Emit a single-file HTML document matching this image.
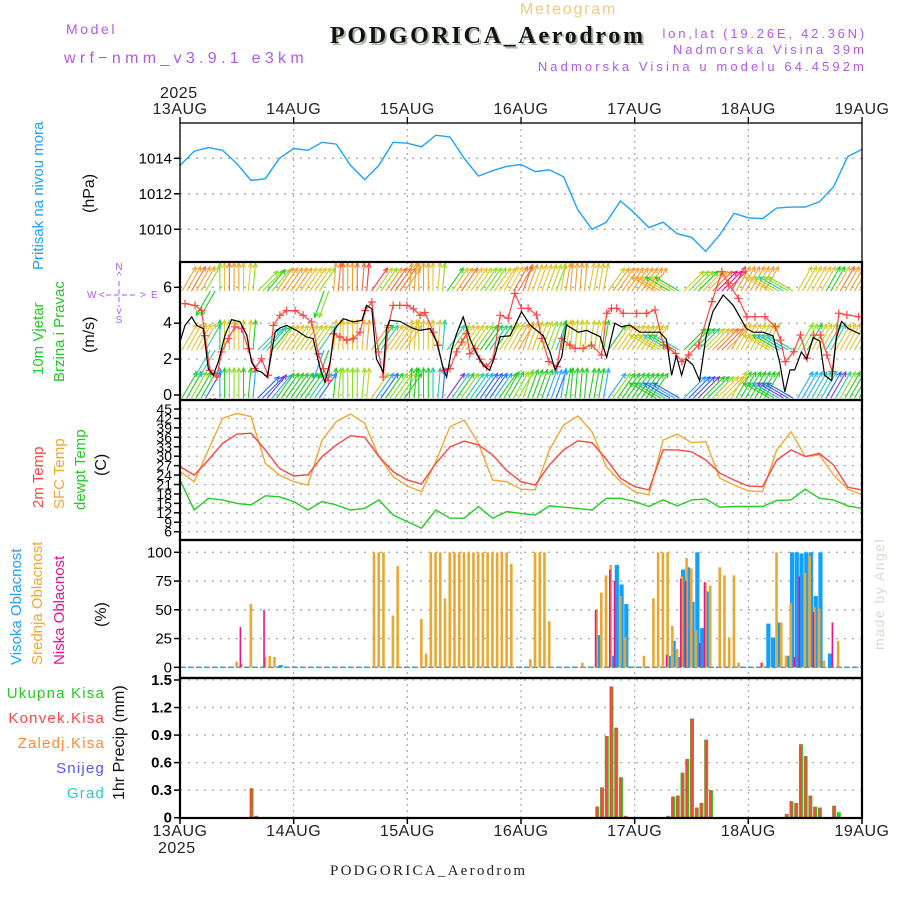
<!DOCTYPE html>
<html><head><meta charset="utf-8">
<style>
html,body{margin:0;padding:0;background:#fff;}
svg{display:block;font-family:"Liberation Sans",sans-serif;}
</style></head>
<body>
<svg id="chart" width="900" height="900" viewBox="0 0 900 900" xmlns="http://www.w3.org/2000/svg">
<defs><clipPath id="windclip"><rect x="180" y="263" width="682" height="136"/></clipPath></defs>
<rect x="0" y="0" width="900" height="900" fill="#fff"/>
<text x="520" y="14" font-size="16" fill="#f2c97e" letter-spacing="1.8">Meteogram</text>
<text x="66" y="34" font-size="14" fill="#b05ae8" letter-spacing="2.6">Model</text>
<text x="64" y="63" font-size="16" fill="#b05ae8" letter-spacing="4.3">wrf−nmm_v3.9.1 e3km</text>
<text x="332" y="45" font-size="24" font-weight="bold" font-family="Liberation Serif,serif" fill="#a9b9a0" textLength="313">PODGORICA_Aerodrom</text>
<text x="330" y="43" font-size="24" font-weight="bold" font-family="Liberation Serif,serif" fill="#111" textLength="313">PODGORICA_Aerodrom</text>
<text x="867" y="38" font-size="13" fill="#b05ae8" text-anchor="end" letter-spacing="2.8">lon,lat (19.26E, 42.36N)</text>
<text x="867" y="54" font-size="13" fill="#b05ae8" text-anchor="end" letter-spacing="3">Nadmorska Visina 39m</text>
<text x="867" y="71" font-size="13" fill="#b05ae8" text-anchor="end" letter-spacing="3.1">Nadmorska Visina u modelu 64.4592m</text>
<text x="330" y="875" font-size="15" font-family="Liberation Serif,serif" fill="#222" textLength="195">PODGORICA_Aerodrom</text>
<text transform="translate(884,650) rotate(-90)" font-size="14" fill="#d4dccd" letter-spacing="1.5">made by Angel</text>

<text transform="translate(43,270) rotate(-90)" font-size="15" fill="#1ea2ff">Pritisak na nivou mora</text>
<text transform="translate(94,213) rotate(-90)" font-size="16" fill="#111">(hPa)</text>
<text transform="translate(43,375) rotate(-90)" font-size="15" fill="#22cc22">10m Vjetar</text>
<text transform="translate(64,382) rotate(-90)" font-size="15" fill="#22cc22">Brzina i Pravac</text>
<text transform="translate(94,353) rotate(-90)" font-size="16" fill="#111">(m/s)</text>
<g font-size="10" fill="#b05ae8">
<text x="119" y="270" text-anchor="middle">N</text>
<text x="119" y="279" text-anchor="middle">^</text>
<text x="87" y="298">W</text>
<text x="99" y="298">&lt;</text>
<text x="140" y="298">&gt;</text>
<text x="151" y="298">E</text>
<text x="119" y="314" text-anchor="middle">v</text>
<text x="119" y="323" text-anchor="middle">S</text>
<line x1="106" y1="295" x2="137" y2="295" stroke="#b05ae8" stroke-dasharray="5,3"/>
<line x1="119" y1="281" x2="119" y2="307" stroke="#b05ae8" stroke-dasharray="5,3"/>
</g>
<text transform="translate(43,508) rotate(-90)" font-size="15" fill="#ff4444">2m Temp</text>
<text transform="translate(64,509) rotate(-90)" font-size="15" fill="#f0a830">SFC Temp</text>
<text transform="translate(85,510) rotate(-90)" font-size="15" fill="#22cc22">dewpt Temp</text>
<text transform="translate(106,476) rotate(-90)" font-size="16" fill="#111">(C)</text>
<text transform="translate(21,665) rotate(-90)" font-size="15" fill="#1ea2ff">Visoka Oblacnost</text>
<text transform="translate(42,665) rotate(-90)" font-size="15" fill="#f0a830">Srednja Oblacnost</text>
<text transform="translate(64,665) rotate(-90)" font-size="15" fill="#ee1188">Niska Oblacnost</text>
<text transform="translate(106,627) rotate(-90)" font-size="16" fill="#111">(%)</text>
<g font-size="15" text-anchor="end" letter-spacing="1.2">
<text x="105" y="698" fill="#22cc22">Ukupna  Kisa</text>
<text x="105" y="723" fill="#ff4444">Konvek.Kisa</text>
<text x="105" y="748" fill="#ff8833">Zaledj.Kisa</text>
<text x="105" y="773" fill="#5555ff">Snijeg</text>
<text x="105" y="798" fill="#22cccc">Grad</text>
</g>
<text transform="translate(124,800) rotate(-90)" font-size="16" fill="#111">1hr Precip (mm)</text>

<g id="layer"></g>
</svg>
<script>
// ---------- data ----------
const dayLabels = ["13AUG","14AUG","15AUG","16AUG","17AUG","18AUG","19AUG"];
const pressHours = [0,3,6,9,12,15,18,21,24,27,30,33,36,39,42,45,48,51,54,57,60,63,66,69,72,75,78,81,84,87,90,93,96,99,102,105,108,111,114,117,120,123,126,129,132,135,138,141,144];
const pressVals = [1013.6,1014.4,1014.6,1014.45,1013.7,1012.75,1012.85,1014.0,1014.55,1014.45,1014.9,1014.8,1013.6,1012.8,1013.6,1014.9,1014.85,1014.65,1015.3,1015.2,1014.0,1013.0,1013.3,1013.55,1013.65,1013.25,1013.35,1012.95,1011.1,1010.0,1010.4,1011.6,1010.9,1010.1,1010.4,1009.75,1009.55,1008.75,1009.7,1010.9,1010.65,1010.6,1011.2,1011.25,1011.25,1011.55,1012.4,1014.1,1014.5];
const pressTicks = [1010,1012,1014];

const tempHours = pressHours;
const temp2m = [26.7,24.0,28.8,34.1,37.0,37.3,32.0,26.1,23.7,24.1,29.9,33.6,36.5,36.0,29.9,25.1,22.4,21.2,27.7,33.0,34.8,33.6,30.4,25.4,21.9,20.8,27.2,32.0,34.9,34.3,29.0,23.0,20.3,19.3,32.0,32.0,31.4,28.8,24.6,22.4,20.5,20.3,28.8,32.0,29.9,30.9,27.2,20.1,19.3];
const tempSfc = [25.1,21.9,32.0,42.0,43.6,42.6,27.7,24.0,21.9,20.8,35.1,41.0,43.4,40.5,29.9,23.5,20.5,18.7,28.3,39.4,41.5,34.1,22.4,21.9,19.5,19.3,32.0,39.9,42.8,37.8,26.7,21.9,18.7,17.7,35.1,37.0,34.3,34.6,23.0,20.8,19.0,18.7,32.0,37.8,29.9,30.4,24.0,19.5,17.7];
const tempDew = [22.4,12.9,16.6,16.1,15.0,14.5,17.4,17.1,15.6,12.9,15.6,14.5,12.9,13.4,16.1,11.3,9.2,7.1,12.9,10.3,10.3,14.0,10.3,12.4,11.8,11.3,14.2,13.8,13.4,12.9,16.6,16.6,15.6,14.0,16.1,14.2,16.1,16.4,13.8,14.0,14.0,14.0,15.9,16.1,19.5,16.6,16.1,14.2,13.4];
const tempTicks = [6,9,12,15,18,21,24,27,30,33,36,39,42,45];

const windHours = [0,1.06,2.46,3.52,4.93,5.98,7.04,8.09,9.5,10.9,12.7,14.1,15.1,16.2,17.2,18.4,19.0,20.1,21.1,22.5,24.6,26.7,28.1,29.6,30.6,31.7,32.7,34.5,36.6,38.4,39.4,40.5,41.5,42.9,43.6,44.3,46.4,49.3,50.7,52.8,54.2,55.6,56.3,57.4,58.4,59.8,61.2,62.6,64.0,65.4,66.5,67.6,69.7,72.1,73.9,76.7,78.1,79.2,80.6,81.6,84.1,85.9,88.7,90.1,91.8,93.2,95.0,97.1,101.3,102.7,103.8,104.8,105.9,106.9,108.3,109.7,111.1,112.5,114.7,116.8,119.6,121.0,123.1,125.2,126.6,127.7,128.8,129.8,131.2,132.3,133.7,135.1,136.1,137.6,138.6,139.7,141.1,143.6];
const windSpeed = [2.95,3.88,4.35,3.88,3.7,1.47,1.1,1.84,3.33,4.2,4.07,3.33,1.84,1.37,1.28,1.0,1.84,3.51,3.73,3.88,3.6,3.23,3.14,1.47,0.72,1.84,3.7,4.25,4.07,4.16,5.0,4.8,2.0,1.28,3.7,4.16,4.1,3.7,3.6,3.7,2.95,1.47,1.0,2.58,3.42,4.35,3.14,2.3,1.66,1.37,2.21,3.25,3.3,4.64,3.9,3.3,2.4,1.4,2.1,3.9,3.5,3.6,3.25,2.1,4.0,3.8,3.9,3.5,3.5,3.1,1.1,2.2,1.1,2.0,1.67,0.8,3.3,4.64,5.57,5.0,3.7,3.5,3.5,3.3,1.85,0.18,1.4,1.4,2.4,2.0,3.2,3.0,1.1,0.8,3.2,4.1,3.7,3.4];
const gustHours = [1.06,3.17,4.57,5.28,6.33,7.74,8.8,10.2,11.6,13.0,14.4,15.8,17.2,18.6,19.7,21.1,22.5,24.3,26.0,27.8,29.2,30.3,31.3,32.4,33.8,35.2,36.6,38.0,39.1,40.5,41.9,42.9,44.0,45.0,46.4,47.9,49.3,50.7,51.7,53.5,54.5,55.6,57.0,58.4,59.5,60.5,61.2,62.3,63.3,64.7,66.1,67.6,69.3,70.7,72.1,73.5,75.3,76.4,77.9,79.6,80.6,82.3,83.4,85.1,86.9,89.0,90.1,91.1,92.2,93.6,96.4,98.5,100.3,102.1,103.2,104.6,106.0,107.4,109.5,112.3,114.4,115.8,117.9,119.7,121.4,123.5,125.7,126.8,127.8,129.6,131.0,132.4,133.8,135.2,136.6,137.7,139.1,140.8,143.3];
const gustVals = [5.09,4.99,4.7,3.3,1.37,1.0,2.4,3.14,3.8,3.7,2.58,1.47,2.02,1.1,3.88,4.44,4.7,4.7,4.44,4.07,2.3,1.47,0.8,3.42,3.23,3.05,3.14,3.5,4.7,5.18,2.4,1.0,3.88,4.99,4.99,4.99,4.8,4.44,4.6,3.5,2.77,1.37,1.47,2.4,2.95,3.42,2.3,2.58,2.0,1.57,2.0,4.44,4.28,5.66,4.83,4.83,4.46,3.15,1.86,1.58,3.15,2.78,2.6,2.6,2.78,2.23,4.55,4.83,4.83,4.55,4.55,4.55,4.74,2.78,2.6,2.32,1.86,2.23,2.78,5.2,6.87,6.2,5.38,4.36,4.36,4.36,3.8,3.06,1.86,2.41,3.34,2.05,3.34,3.34,2.23,1.3,4.55,4.46,4.36];
const windDir = [30,30,30,210,0,0,0,5,45,40,35,35,35,35,35,200,5,0,0,5,35,35,35,35,5,0,0,5,35,35,35,35,35,35,30,30,20,20,20,20,10,5,5,10,10,35,35,35,35,35,300,300,300,45,45,45,45,45,30,30,30,30,300,300,300,30,30,30,30,30,30,30];
const windTicks = [0,2,4,6];

const highHours = [21,88,91,92,93,94,103,104,105,106,107,108,109,110,111,124,125,126,128,129,130,131,132,133,134,135,137];
const highVals = [2,28,10,89,72,55,10,23,9,85,87,57,100,34,66,38,26,39,10,100,100,99,100,100,62,100,12];
const midHours = [12,13,15,18,19,20,41,42,43,45,46,51,52,53,54,55,56,57,58,59,60,61,62,63,64,65,66,67,68,69,70,74,75,76,77,78,85,88,89,90,91,93,94,98,100,101,102,103,104,105,106,107,108,109,111,112,114,115,116,117,118,123,126,127,128,129,132,133,134,135,136,139];
const midVals = [5,3,55,9,10,9,100,100,100,45,88,42,12,100,100,100,60,100,100,100,100,100,100,100,100,100,100,100,100,100,90,7,100,100,100,40,4,50,65,80,89,62,26,10,60,100,100,100,36,16,79,95,86,32,74,71,87,80,26,80,4,4,100,39,10,56,82,97,52,51,6,23];
const lowHours = [13,18,88,91,92,103,106,107,110,111,123,130,131,134,138];
const lowVals = [35,50,50,85,75,11,77,75,21,74,4,9,79,48,39];
const cloudTicks = [0,25,50,75,100];

const precipHours = [15,16,88,89,90,91,92,93,94,103,104,105,106,107,108,109,110,111,112,128,129,130,131,132,133,134,135,138,139];
const precipTotal = [0.32,0.02,0.12,0.33,0.89,1.43,0.98,0.44,0.02,0.02,0.23,0.24,0.49,0.64,1.08,0.11,0.16,0.85,0.30,0.04,0.18,0.16,0.80,0.67,0.24,0.12,0.11,0.13,0.06];
const precipConv = [0.32,0.02,0.12,0.33,0.89,1.43,0.98,0.44,0.02,0.02,0.23,0.24,0.49,0.64,1.08,0.11,0.16,0.85,0.30,0.04,0.18,0.16,0.80,0.67,0.24,0.12,0.11,0.13,0.0];
const precipTicks = [0,0.3,0.6,0.9,1.2,1.5];

// ---------- axes ----------
const X0 = 180, X1 = 862;
const xH = h => X0 + h * (X1 - X0) / 144;
const yP = v => 158.3 + (1014 - v) * 17.75;
const yW = v => 395 - v * 17.95;
const yT = v => 409 + (45 - v) * 3.146;
const yC = v => 667.3 - v * 1.15;
const yR = v => 817.7 - v * 91.8;
const panels = [[123,262,"pressure-panel"],[262,400,"wind-panel"],[400,540,"temperature-panel"],[540,678,"cloud-panel"],[678,818,"precip-panel"]];

const NS = "http://www.w3.org/2000/svg";
const layer = document.getElementById("layer");
function mk(tag, attrs, parent) {
  const e = document.createElementNS(NS, tag);
  for (const k in attrs) e.setAttribute(k, attrs[k]);
  (parent || layer).appendChild(e);
  return e;
}
function path(xs, ys) {
  return xs.map((x, i) => (i ? "L" : "M") + x.toFixed(1) + "," + ys[i].toFixed(1)).join("");
}

panels.forEach(p => {
  for (let d = 0; d <= 6; d++) {
    const g = mk("line", {x1: xH(d*24), x2: xH(d*24), y1: p[0], y2: p[1], stroke: "#aaa", "stroke-dasharray": "2,4", "stroke-width": 1.2});
    
    
  }
});
function hgrid(ticks, yf, name, fmt, fs, bold) {
  ticks.forEach(t => {
    const y = yf(t);
    const g = mk("line", {x1: X0, x2: X1, y1: y, y2: y, stroke: "#aaa", "stroke-dasharray": "2,6", "stroke-width": 1.3});
    
    
    const tk = mk("line", {x1: X0 - 6, x2: X0, y1: y, y2: y, stroke: "#000", "stroke-width": 1.5});
    
    
    const tx = mk("text", {x: X0 - 8, y: y + 5, "font-size": fs, "text-anchor": "end", fill: "#000", "font-weight": bold ? "bold" : "normal"});
    tx.textContent = fmt(t);
    
    
  });
}
hgrid(pressTicks, yP, "pressure", t => t, 15, false);
hgrid(windTicks, yW, "wind", t => t, 16, false);
hgrid(tempTicks, yT, "temp", t => t, 14, false);
hgrid(cloudTicks, yC, "cloud", t => t, 15, false);
hgrid(precipTicks, yR, "precip", t => t === 0 ? "0" : t.toFixed(1), 15, true);

const pl = mk("path", {d: path(pressHours.map(xH), pressVals.map(yP)), fill: "none", stroke: "#1ea2ff", "stroke-width": 1.4});



// wind arrows (clipped to panel)
const windGroup = mk("g", {"clip-path": "url(#windclip)"});


const palette = ["#8833dd","#2266ff","#22aaff","#22ccaa","#22cc22","#88dd22","#cccc22","#e8c030","#f0a030","#f07030","#ff3355","#ee1188"];
function speedAt(h) {
  for (let i = 1; i < windHours.length; i++) if (windHours[i] >= h) return windSpeed[i];
  return windSpeed[windSpeed.length - 1];
}
const rows = [[291, 7.5, 2], [350, 4.0, 1], [398, 1.0, 0]];
windDir.forEach((dir, i) => {
  for (let k = 0; k < 2; k++) {
    const h = i * 2 + k;
    if (h > 143) continue;
    rows.forEach((r, ri) => {
      const sp = speedAt(h) + r[2];
      const ci = Math.max(0, Math.min(palette.length - 1, Math.round(sp * 1.4) + (ri === 2 ? -1 : 0)));
      const len = ri === 0 ? 28 : 30;
      const a = dir * Math.PI / 180;
      const x1 = xH(h) + 2, y1 = r[0];
      const x2 = x1 + Math.sin(a) * len, y2 = y1 - Math.cos(a) * len;
      const ar = mk("line", {x1: x1, y1: y1, x2: x2, y2: y2, stroke: palette[ci], "stroke-width": 1.1}, windGroup);
      
      
      const hx1 = x2 - Math.sin(a - 0.45) * 5, hy1 = y2 + Math.cos(a - 0.45) * 5;
      const hx2 = x2 - Math.sin(a + 0.45) * 5, hy2 = y2 + Math.cos(a + 0.45) * 5;
      const hd = mk("polyline", {points: hx1 + "," + hy1 + " " + x2 + "," + y2 + " " + hx2 + "," + hy2, fill: "none", stroke: palette[ci], "stroke-width": 1.1}, windGroup);
      
      
    });
  }
});
const gl = mk("path", {d: path(gustHours.map(xH), gustVals.map(yW)), fill: "none", stroke: "#ff4444", "stroke-width": 1.2});


gustHours.forEach((h, i) => {
  const x = xH(h), y = yW(gustVals[i]);
  const c = mk("path", {d: `M${x-4},${y}H${x+4}M${x},${y-4}V${y+4}`, stroke: "#ff4444", "stroke-width": 1.2});
  
  
});
const wl = mk("path", {d: path(windHours.map(xH), windSpeed.map(yW)), fill: "none", stroke: "#000", "stroke-width": 1.2});



[[tempSfc, "#f0a830", "sfc-temp-line"], [temp2m, "#ff4444", "2m-temp-line"], [tempDew, "#22cc22", "dewpoint-line"]].forEach(s => {
  const l = mk("path", {d: path(tempHours.map(xH), s[0].map(yT)), fill: "none", stroke: s[1], "stroke-width": 1.4});
  
  
});

const cb = mk("line", {x1: X0, x2: X1, y1: yC(0), y2: yC(0), stroke: "#1ea2ff", "stroke-width": 1.5, "stroke-dasharray": "4,4"});


const cb2 = mk("line", {x1: X0 + 4, x2: X1, y1: yC(0), y2: yC(0), stroke: "#ee1188", "stroke-width": 1, "stroke-dasharray": "2,6"});


highHours.forEach((h, i) => {
  const b = mk("rect", {x: xH(h) - 1, y: yC(highVals[i]), width: 4.2, height: yC(0) - yC(highVals[i]), fill: "#11a0ff"});
  
  
});
midHours.forEach((h, i) => {
  const b = mk("rect", {x: xH(h) - 1.5, y: yC(midVals[i]), width: 2.6, height: yC(0) - yC(midVals[i]), fill: "#eaa830"});
  
  
});
lowHours.forEach((h, i) => {
  const b = mk("rect", {x: xH(h) - 2, y: yC(lowVals[i]), width: 1.6, height: yC(0) - yC(lowVals[i]), fill: "#ee1188"});
  
  
});

precipHours.forEach((h, i) => {
  const g = mk("rect", {x: xH(h) - 1.5, y: yR(precipTotal[i]), width: 4, height: yR(0) - yR(precipTotal[i]), fill: "#22cc22"});
  
  
  const r = mk("rect", {x: xH(h) - 1, y: yR(precipConv[i]), width: 2.5, height: yR(0) - yR(precipConv[i]), fill: "#ff4444"});
  
  
});

panels.forEach(p => {
  const r = mk("rect", {x: X0, y: p[0], width: X1 - X0, height: p[1] - p[0], fill: "none", stroke: "#000", "stroke-width": p[0] === 123 ? 1.3 : 2.2});
  
  
});

dayLabels.forEach((lab, d) => {
  const x = xH(d * 24);
  const t1 = mk("text", {x: x, y: 114, "font-size": 16, "text-anchor": "middle", fill: "#222", "letter-spacing": "0.5"});
  t1.textContent = lab;
  
  
  const k1 = mk("line", {x1: x, x2: x, y1: 117, y2: 123, stroke: "#000", "stroke-width": 1.3});
  
  
  const t2 = mk("text", {x: x, y: 836, "font-size": 16, "text-anchor": "middle", fill: "#222", "letter-spacing": "0.5"});
  t2.textContent = lab;
  
  
  const k2 = mk("line", {x1: x, x2: x, y1: 818, y2: 824, stroke: "#000", "stroke-width": 1.5});
  
  
});
const y1l = mk("text", {x: 160, y: 98, "font-size": 16, fill: "#222", "letter-spacing": "0.5"});
y1l.textContent = "2025";


const y2l = mk("text", {x: 158, y: 853, "font-size": 16, fill: "#222", "letter-spacing": "0.5"});
y2l.textContent = "2025";


</script>
</body></html>
